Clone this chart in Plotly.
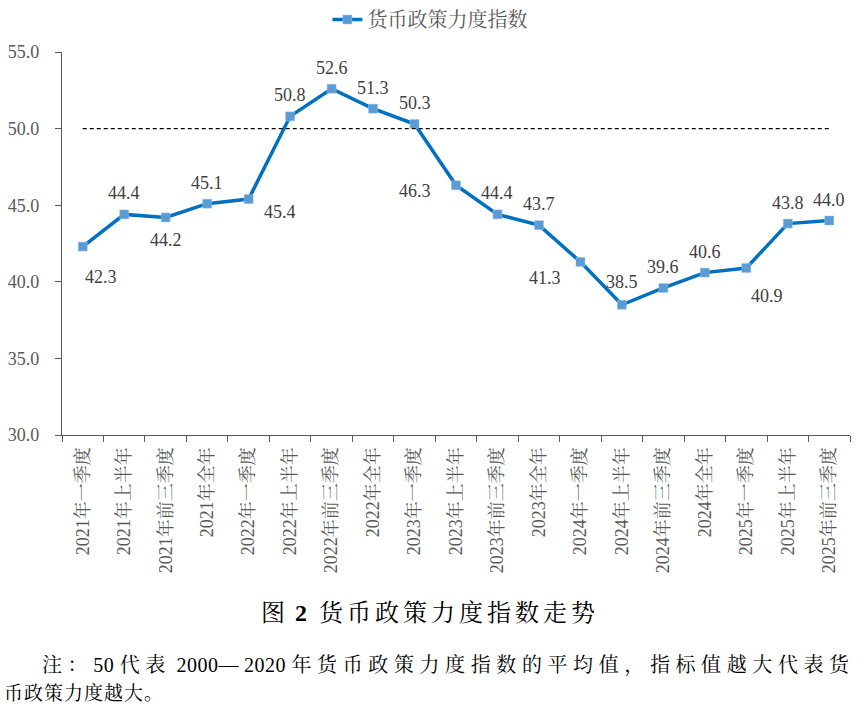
import plotly.graph_objects as go

# categories (x axis) and index values
periods = [
    "2021年一季度", "2021年上半年", "2021年前三季度", "2021年全年",
    "2022年一季度", "2022年上半年", "2022年前三季度", "2022年全年",
    "2023年一季度", "2023年上半年", "2023年前三季度", "2023年全年",
    "2024年一季度", "2024年上半年", "2024年前三季度", "2024年全年",
    "2025年一季度", "2025年上半年", "2025年前三季度",
]
index_values = [42.3, 44.4, 44.2, 45.1, 45.4, 50.8, 52.6, 51.3, 50.3, 46.3,
                44.4, 43.7, 41.3, 38.5, 39.6, 40.6, 40.9, 43.8, 44.0]
baseline = 50.0
y_ticks = [30.0, 35.0, 40.0, 45.0, 50.0, 55.0]

series_name = "货币政策力度指数"
# note text pieces: (text, is_cjk)
note_parts = [
    ("注：", True), ("50 ", False), ("代表", True), (" 2000", False),
    ("—", True), ("2020 ", False),
    ("年货币政策力度指数的平均值，指标值越大代表货", True),
]
note_line2 = "币政策力度越大。"

# label placement (pixel shift from each point), layout only
label_dx = [18, 0, 0, 0, 31, 0, 0, 0, 0, -41, 0, 0, -35, 0, 0, 0, 21, 0, 0]
label_dy = [-30, 21, -23, 21, -13, 21, 21, 21, 21, -6, 21, 21, -16, 23, 21, 21, -28, 21, 21]

SERIF = "Times New Roman, Liberation Serif, Noto Serif CJK SC, Noto Sans CJK SC, serif"
GREY = "#595959"


def spaced(text, px):
    return f"<span style='letter-spacing:{px}px'>{text}</span>"


fig = go.Figure()

fig.add_trace(go.Scatter(
    x=periods, y=index_values, name=series_name,
    mode="lines+markers",
    line=dict(color="#0070C0", width=3.5),
    marker=dict(symbol="square", size=9, color="#5B9BD5",
                line=dict(color="#9DC3E6", width=0.5)),
))

# dashed 50 reference line
fig.add_trace(go.Scatter(
    x=[periods[0], periods[-1]], y=[baseline, baseline],
    mode="lines", line=dict(color="black", width=1.2, dash="4px,3px"),
    showlegend=False, hoverinfo="skip",
))

for cat, val, dx, dy in zip(periods, index_values, label_dx, label_dy):
    fig.add_annotation(
        x=cat, y=val, text=f"{val:.1f}", showarrow=False,
        xshift=dx, yshift=dy,
        font=dict(family=SERIF, size=18, color="#404040"),
    )

# figure caption and note below the chart
fig.add_annotation(
    text=spaced("图", 4) + " <b>2</b>  " + spaced("货币政策力度指数走势", 4),
    xref="paper", yref="paper", x=0.467, y=-0.465,
    xanchor="center", yanchor="middle", showarrow=False,
    font=dict(family=SERIF, size=24, color="black"),
)
fig.add_annotation(
    text="".join(spaced(t, 5.6 if cjk else 0.5) for t, cjk in note_parts),
    xref="paper", yref="paper", x=-0.028, y=-0.601,
    xanchor="left", yanchor="middle", showarrow=False,
    font=dict(family=SERIF, size=20, color="black"),
)
fig.add_annotation(
    text=spaced(note_line2, 1), xref="paper", yref="paper", x=-0.076, y=-0.676,
    xanchor="left", yanchor="middle", showarrow=False,
    font=dict(family=SERIF, size=19, color="black"),
)

fig.update_xaxes(
    type="category", categoryorder="array", categoryarray=periods,
    range=[-0.5, len(periods) - 0.5],
    tickangle=-90, tickson="boundaries",
    ticks="outside", ticklen=6, tickcolor=GREY,
    showline=True, linecolor=GREY, linewidth=1.3,
    showgrid=False, zeroline=False, automargin=False,
    ticklabelstandoff=4,
    tickfont=dict(family=SERIF, size=18, color=GREY),
)
fig.update_yaxes(
    range=[30, 55], tickvals=y_ticks, ticktext=[f"{v:.1f}" for v in y_ticks],
    ticks="outside", ticklen=6, tickcolor=GREY,
    showline=True, linecolor=GREY, linewidth=1.3,
    showgrid=False, zeroline=False, automargin=False,
    ticklabelstandoff=12,
    tickfont=dict(family=SERIF, size=18, color=GREY),
)

fig.update_layout(
    width=865, height=717,
    margin=dict(l=62, r=15, t=52, b=282),
    paper_bgcolor="white", plot_bgcolor="white",
    showlegend=True,
    legend=dict(
        orientation="h", xref="container", yref="container",
        x=0.497, y=1.0, xanchor="center", yanchor="top",
        font=dict(family=SERIF, size=20, color=GREY),
        itemwidth=30,
    ),
)

# page body has a default 8px margin; drop it so the figure sits at the corner
fig.write_html("out.html", config={"displayModeBar": False},
               post_script="document.body.style.margin='0';")
